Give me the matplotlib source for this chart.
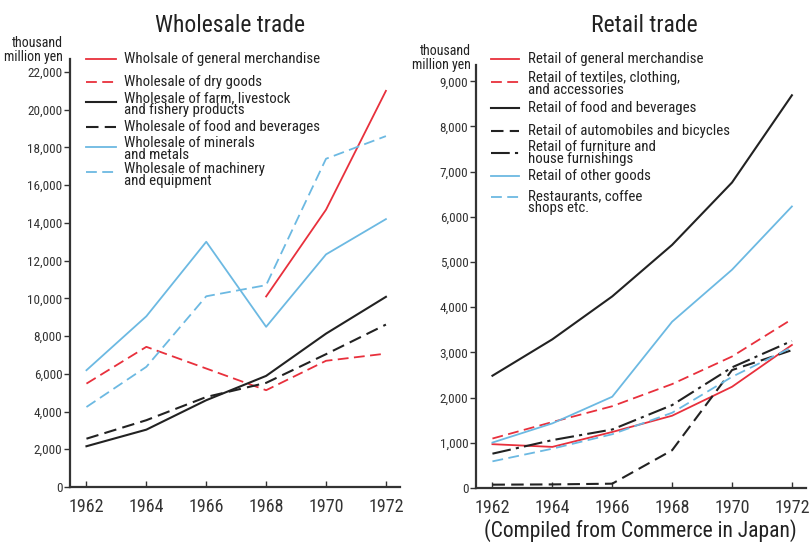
import matplotlib
matplotlib.use("Agg")
import matplotlib.pyplot as plt
from matplotlib.lines import Line2D
from matplotlib.ticker import FuncFormatter

plt.rcParams['font.family'] = ['Roboto Condensed', 'DejaVu Sans']

years = [1962, 1964, 1966, 1968, 1970, 1972]

# Wholesale trade (thousand million yen)
ws_general = [None, None, None, 10100, 14700, 21000]
ws_dry = [5480, 7430, 6280, 5130, 6690, 7070]
ws_farm = [2160, 3040, 4600, 5890, 8130, 10080]
ws_food = [2560, 3540, 4770, 5520, 7040, 8610]
ws_minerals = [6190, 9050, 13000, 8490, 12330, 14200]
ws_machinery = [4240, 6370, 10110, 10700, 17400, 18600]

# Retail trade (thousand million yen)
rt_general = [970, 910, 1240, 1600, 2240, 3165]
rt_textiles = [1095, 1460, 1810, 2300, 2910, 3735]
rt_food = [2485, 3290, 4240, 5380, 6760, 8690]
rt_auto = [74, 80, 96, 836, 2610, 3050]
rt_furniture = [760, 1060, 1295, 1835, 2670, 3255]
rt_other = [1006, 1430, 2020, 3680, 4830, 6230]
rt_restaurants = [590, 870, 1190, 1665, 2460, 3115]

RED = '#e8303c'
BLUE = '#6cb9e2'
BLACK = '#222222'
DASH = (0, (6, 3))
DASHDOT = (0, (9, 2.5, 1.5, 2.5))

W, H = 811, 544
fig = plt.figure(figsize=(W / 100, H / 100), dpi=100)
axL = fig.add_axes([0.0863, 0.1048, 0.4069, 0.7868])
axR = fig.add_axes([0.5869, 0.1029, 0.4069, 0.7776])

def xy(vals):
    xs = [y for y, v in zip(years, vals) if v is not None]
    vs = [v for v in vals if v is not None]
    return xs, vs

left_series = [
    (ws_general, RED, '-', 'Wholsale of general merchandise'),
    (ws_dry, RED, DASH, 'Wholesale of dry goods'),
    (ws_farm, BLACK, '-', 'Wholesale of farm, livestock\nand fishery products'),
    (ws_food, BLACK, DASH, 'Wholesale of food and beverages'),
    (ws_minerals, BLUE, '-', 'Wholesale of minerals\nand metals'),
    (ws_machinery, BLUE, DASH, 'Wholesale of machinery\nand equipment'),
]
right_series = [
    (rt_general, RED, '-', 'Retail of general merchandise'),
    (rt_textiles, RED, DASH, 'Retail of textiles, clothing,\nand accessories'),
    (rt_food, BLACK, '-', 'Retail of food and beverages'),
    (rt_auto, BLACK, DASH, 'Retail of automobiles and bicycles'),
    (rt_furniture, BLACK, DASHDOT, 'Retail of furniture and\nhouse furnishings'),
    (rt_other, BLUE, '-', 'Retail of other goods'),
    (rt_restaurants, BLUE, DASH, 'Restaurants, coffee\nshops etc.'),
]

# legend layout (pixel positions in the figure): text block centre, key y
left_leg = dict(x0=86, x1=116, tx=124, rows=[(59, 59), (82, 82), (104, 102), (127, 127), (149, 147), (175, 172)])
right_leg = dict(x0=491, x1=519, tx=528, rows=[(59, 59), (84, 82), (108, 108), (131, 131), (153, 153), (176, 176), (202, 197)])

fmt = FuncFormatter(lambda v, p: f"{int(v):,}")

def fx(px):
    return px / W

def fy(py):
    return 1 - py / H

for ax, series, ymax, yticks, leg in [
    (axL, left_series, 22690, list(range(0, 22001, 2000)), left_leg),
    (axR, right_series, 9360, list(range(0, 9001, 1000)), right_leg),
]:
    for (vals, c, ls, lab), (ty, ky) in zip(series, leg['rows']):
        xs, vs = xy(vals)
        lw = 1.5 if c == BLACK else 1.3
        ax.plot(xs, vs, color=c, linestyle=ls, linewidth=lw, label=lab)
        fig.add_artist(Line2D([fx(leg['x0']), fx(leg['x1'])], [fy(ky), fy(ky)],
                              transform=fig.transFigure, color=c, linestyle=ls, linewidth=lw))
        fig.text(fx(leg['tx']), fy(ty), lab, ha='left', va='center', fontsize=10.7,
                 linespacing=0.78, color='#222222')
    ax.set_xlim(1961.45, 1972.47)
    ax.set_ylim(0, ymax)
    ax.set_yticks(yticks)
    ax.yaxis.set_major_formatter(fmt)
    ax.set_xticks(years)
    ax.set_xticklabels([str(y) for y in years])
    for s in ['top', 'right']:
        ax.spines[s].set_visible(False)
    for s in ['left', 'bottom']:
        ax.spines[s].set_color('#333333')
        ax.spines[s].set_linewidth(1.6)
    ax.tick_params(axis='y', direction='out', length=4, width=1, labelsize=9.5, colors='#333333', pad=1.5)
    ax.tick_params(axis='x', direction='in', length=4, width=1, labelsize=13, colors='#333333', pad=8)

fig.text(0.284, 0.954, 'Wholesale trade', ha='center', va='center', fontsize=17, color='#222222')
fig.text(0.795, 0.954, 'Retail trade', ha='center', va='center', fontsize=17, color='#222222')
fig.text(0.077, 0.908, 'thousand\nmillion yen', ha='right', va='center', fontsize=10, linespacing=0.95, color='#222222')
fig.text(0.580, 0.893, 'thousand\nmillion yen', ha='right', va='center', fontsize=10, linespacing=0.95, color='#222222')
fig.text(0.789, 0.024, '(Compiled from Commerce in Japan)', ha='center', va='center', fontsize=15.5, color='#222222')

fig.savefig('out.png', dpi=100, facecolor='white')
